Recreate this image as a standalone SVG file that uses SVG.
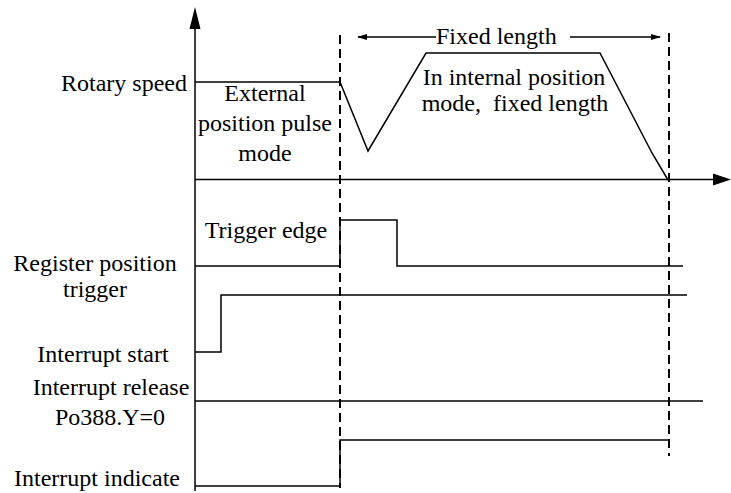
<svg xmlns="http://www.w3.org/2000/svg" width="731" height="493" viewBox="0 0 731 493">
<style>
text{font-family:"Liberation Serif","Times New Roman",serif;font-size:24px;fill:#000}
.s{fill:none;stroke:#000;stroke-width:1.5}
.d{fill:none;stroke:#000;stroke-width:2;stroke-dasharray:9 5}
.m{text-anchor:middle}
.e{text-anchor:end}
</style>
<defs>
<marker id="ah" markerWidth="10" markerHeight="6" refX="9" refY="3" orient="auto" markerUnits="userSpaceOnUse">
<path d="M0,0 L10,3 L0,6 Z" fill="#000"/>
</marker>
</defs>
<rect width="731" height="493" fill="#fff"/>
<g id="axes">
<line class="s" x1="195" y1="28" x2="195" y2="491"/>
<polygon points="195,7 189.5,29 200.5,29" fill="#000"/>
<line class="s" x1="195" y1="179.5" x2="714" y2="179.5"/>
<polygon points="731,179.5 713,173.5 713,185.5" fill="#000"/>
</g>
<g id="guides">
<line class="d" x1="340" y1="35" x2="340" y2="488"/>
<line class="d" x1="669" y1="33" x2="669" y2="456"/>
</g>
<g id="rotary-speed">
<polyline class="s" points="195,82 340,82 368,151 426,53 600,53 652,153 668,180"/>
<text class="e" x="187" y="91">Rotary speed</text>
<text class="m" x="265" y="101">External</text>
<text class="m" x="265" y="131">position pulse</text>
<text class="m" x="265" y="161">mode</text>
<text class="m" x="514" y="85">In internal position</text>
<text class="m" x="515" y="111">mode,&#160; fixed length</text>
</g>
<g id="fixed-length">
<line class="s" x1="436" y1="37" x2="358" y2="37" stroke-width="1" marker-end="url(#ah)"/>
<line class="s" x1="570" y1="37" x2="660" y2="37" stroke-width="1" marker-end="url(#ah)"/>
<text x="436" y="44">Fixed length</text>
</g>
<g id="register-trigger">
<polyline class="s" points="195,266 340,266 340,220 397,220 397,266 683,266"/>
<text class="m" x="266" y="238">Trigger edge</text>
<text class="m" x="95" y="271">Register position</text>
<text class="m" x="95" y="297">trigger</text>
</g>
<g id="interrupt-start">
<polyline class="s" points="195,352 221,352 221,295 687,295"/>
<text class="m" x="103" y="362">Interrupt start</text>
</g>
<g id="interrupt-release">
<line class="s" x1="195" y1="401" x2="703" y2="401"/>
<text class="m" x="111" y="395">Interrupt release</text>
<text class="m" x="110" y="425">Po388.Y=0</text>
</g>
<g id="interrupt-indicate">
<polyline class="s" points="195,486 340,486 340,440 669,440"/>
<text class="m" x="97" y="486">Interrupt indicate</text>
</g>
</svg>
